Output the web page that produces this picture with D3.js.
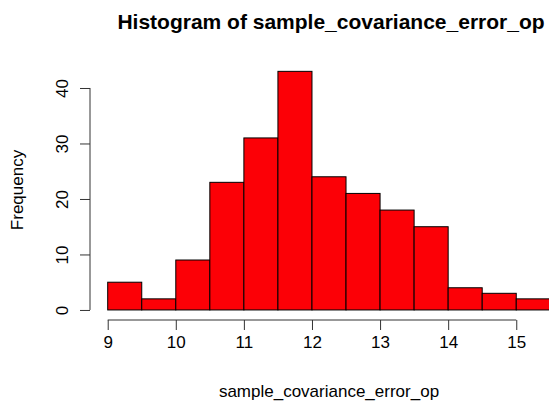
<!DOCTYPE html>
<html>
<head>
<meta charset="utf-8">
<script src="https://cdn.jsdelivr.net/npm/d3@7"></script>
<style>
  body { margin: 0; background: #fff; }
  svg { display: block; font-family: "Liberation Sans", Arial, Helvetica, sans-serif; }
</style>
</head>
<body>
<svg id="chart" width="549" height="404"></svg>
<script>
// histogram breaks and counts
const breaks = [9, 9.5, 10, 10.5, 11, 11.5, 12, 12.5, 13, 13.5, 14, 14.5, 15, 15.5];
const counts = [5, 2, 9, 23, 31, 43, 24, 21, 18, 15, 4, 3, 2];
const xTicks = [9, 10, 11, 12, 13, 14, 15];
const yTicks = [0, 10, 20, 30, 40];

const svg = d3.select("#chart");

// plot region like R: xlim/ylim extended 4%
const x = d3.scaleLinear().domain([8.74, 15.76]).range([90, 568]);
const y = d3.scaleLinear().domain([-1.72, 44.72]).range([319.5, 61.8]);

const bins = counts.map((c, i) => ({ x0: breaks[i], x1: breaks[i + 1], n: c }));

svg.append("g")
    .selectAll("rect")
    .data(bins)
    .enter().append("rect")
    .attr("x", d => x(d.x0))
    .attr("y", d => y(d.n))
    .attr("width", d => x(d.x1) - x(d.x0))
    .attr("height", d => y(0) - y(d.n))
    .attr("fill", "#fc0006")
    .attr("stroke", "#000")
    .attr("stroke-width", 1);

// x axis (R style: line only spans the ticks)
const xAxis = svg.append("g").attr("transform", "translate(0,320)")
    .call(d3.axisBottom(x).tickValues(xTicks).tickFormat(d3.format("d")).tickSize(10).tickPadding(6));
xAxis.select(".domain")
    .attr("d", `M${x(xTicks[0])},0H${x(xTicks[xTicks.length - 1])}`);

// y axis
const yAxis = svg.append("g").attr("transform", "translate(90,0)")
    .call(d3.axisLeft(y).tickValues(yTicks).tickSize(10).tickPadding(6));
yAxis.select(".domain")
    .attr("d", `M0,${y(yTicks[0])}V${y(yTicks[yTicks.length - 1])}`);
yAxis.selectAll(".tick text")
    .attr("transform", "rotate(-90)")
    .attr("x", 0)
    .attr("y", -22)
    .attr("dy", 0)
    .style("text-anchor", "middle");

svg.selectAll(".tick line, .domain").attr("stroke", "#333");
svg.selectAll(".tick text").attr("font-size", 17).attr("fill", "#000")
    .attr("font-family", "Liberation Sans, Arial, sans-serif");

// titles
svg.append("text")
    .attr("x", 331).attr("y", 29)
    .attr("text-anchor", "middle")
    .attr("font-size", 21).attr("font-weight", "bold")
    .text("Histogram of sample_covariance_error_op");

svg.append("text")
    .attr("x", 329).attr("y", 397)
    .attr("text-anchor", "middle")
    .attr("font-size", 17)
    .text("sample_covariance_error_op");

svg.append("text")
    .attr("transform", "translate(23,190) rotate(-90)")
    .attr("text-anchor", "middle")
    .attr("font-size", 17)
    .text("Frequency");
</script>
</body>
</html>
